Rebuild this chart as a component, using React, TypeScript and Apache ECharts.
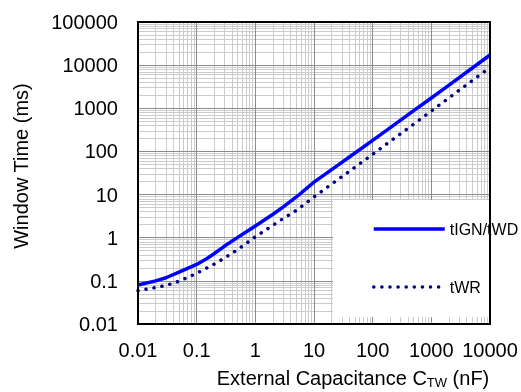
import React, { useEffect, useRef } from "react";
import * as echarts from "echarts";

// Capacitance (nF)
const capacitance = [0.01, 0.02, 0.03, 0.05, 0.07, 0.1, 0.15, 0.2, 0.3, 0.5, 1, 2, 3, 5, 10, 20, 50, 100, 200, 500, 1000, 2000, 5000, 10000];
// tIGN/tWD (ms)
const tIGN = [0.08, 0.1, 0.118, 0.16, 0.195, 0.24, 0.33, 0.43, 0.64, 1.02, 1.87, 3.5, 5.2, 8.8, 19.5, 38, 92, 180, 355, 880, 1730, 3450, 8600, 17200];
// tWR (ms)
const tWR = [0.059, 0.07, 0.078, 0.098, 0.12, 0.15, 0.2, 0.245, 0.34, 0.53, 1.05, 1.95, 2.8, 4.3, 8.8, 17.5, 43, 86, 172, 430, 865, 1750, 4400, 8800];

const xDecades = [0.01, 0.1, 1, 10, 100, 1000, 10000];
const yDecades = [0.01, 0.1, 1, 10, 100, 1000, 10000, 100000];
const minorSteps = [2, 3, 4, 5, 6, 7, 8, 9];

const FONT = "'Liberation Sans', Arial, Helvetica, sans-serif";

function minorOf(decades: number[]) {
  const out: number[] = [];
  decades.slice(0, -1).forEach((d) => minorSteps.forEach((k) => out.push(Number((d * k).toPrecision(6)))));
  return out;
}

export default function App() {
  const ref = useRef<HTMLDivElement>(null);
  useEffect(() => {
    if (!ref.current) return;
    const chart = echarts.init(ref.current, undefined, { renderer: "svg" });
    const fmt = (v: number) => String(Number(v.toPrecision(6)));
    const minorLines = [
      ...minorOf(xDecades).map((v) => ({ xAxis: v })),
      ...minorOf(yDecades).map((v) => ({ yAxis: v })),
    ];
    const majorLines = [
      ...xDecades.slice(1, -1).map((v) => ({ xAxis: v })),
      ...yDecades.slice(1, -1).map((v) => ({ yAxis: v })),
    ];
    const gridLineSeries = (name: string, data: any[], color: string) => ({
      name,
      type: "line",
      data: [],
      silent: true,
      markLine: {
        silent: true,
        symbol: ["none", "none"],
        label: { show: false },
        emphasis: { disabled: true },
        lineStyle: { color, width: 1, type: "solid" },
        data,
      },
    });
    chart.setOption({
      animation: false,
      textStyle: { fontFamily: FONT },
      grid: { left: 138, top: 22, right: 31, bottom: 68, show: false },
      xAxis: {
        type: "log",
        logBase: 10,
        min: 0.01,
        max: 10000,
        axisLine: { show: false },
        axisTick: { show: false },
        splitLine: { show: false },
        axisLabel: { formatter: fmt, fontSize: 20, color: "#000", margin: 16, fontFamily: FONT },
      },
      yAxis: {
        type: "log",
        logBase: 10,
        min: 0.01,
        max: 100000,
        axisLine: { show: false },
        axisTick: { show: false },
        splitLine: { show: false },
        axisLabel: { formatter: fmt, fontSize: 20, color: "#000", margin: 20, fontFamily: FONT },
      },
      legend: {
        data: ["tIGN/tWD", "tWR"],
        orient: "vertical",
        left: 367,
        top: 216,
        itemWidth: 71,
        itemHeight: 14,
        itemGap: 42,
        z: 20,
        itemStyle: { opacity: 0 },
        lineStyle: { width: 3.5 },
        textStyle: { fontSize: 16, lineHeight: 16, color: "#000", fontFamily: FONT },
      },
      graphic: [
        {
          type: "rect",
          z: 10,
          shape: { x: 333, y: 200, width: 156, height: 117 },
          style: { fill: "#fff", stroke: null },
          silent: true,
        },
        {
          type: "rect",
          z: 30,
          shape: { x: 138, y: 22, width: 352, height: 302 },
          style: { fill: "none", stroke: "#000", lineWidth: 2 },
          silent: true,
        },
        {
          type: "text",
          z: 30,
          x: 21,
          y: 166,
          rotation: Math.PI / 2,
          style: {
            text: "Window Time (ms)",
            font: `20px ${FONT}`,
            fill: "#000",
            align: "center",
            verticalAlign: "middle",
          },
        },
        {
          type: "text",
          z: 30,
          x: 353,
          y: 378,
          style: {
            text: "External Capacitance C{sub|TW} (nF)",
            font: `20px ${FONT}`,
            fontSize: 20,
            fontFamily: FONT,
            fill: "#000",
            align: "center",
            verticalAlign: "middle",
            rich: {
              sub: { fontSize: 13, fontFamily: FONT, fill: "#000", padding: [9, 0, 0, 0] },
            },
          },
        },
      ],
      series: [
        gridLineSeries("minor", minorLines, "#cccccc"),
        gridLineSeries("major", majorLines, "#8c8c8c"),
        {
          name: "tIGN/tWD",
          type: "line",
          data: capacitance.map((c, i) => [c, tIGN[i]]),
          showSymbol: false,
          symbol: "none",
          smooth: false,
          lineStyle: { color: "#0000ff", width: 3.5, join: "round" },
          itemStyle: { color: "#0000ff" },
          z: 5,
        },
        {
          name: "tWR",
          type: "line",
          data: capacitance.map((c, i) => [c, tWR[i]]),
          showSymbol: false,
          symbol: "none",
          smooth: false,
          lineStyle: { color: "#00008b", width: 3.5, type: [0.1, 8], cap: "round" },
          itemStyle: { color: "#00008b" },
          z: 5,
        },
      ],
    });
    return () => chart.dispose();
  }, []);
  return <div ref={ref} style={{ position: "fixed", left: 0, top: 0, width: 521, height: 392 }} />;
}
